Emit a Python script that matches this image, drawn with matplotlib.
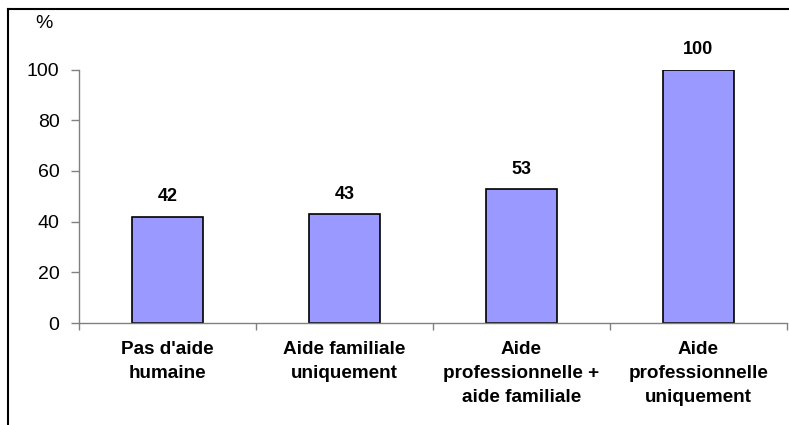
import matplotlib
matplotlib.use("Agg")
import matplotlib.pyplot as plt
from matplotlib.lines import Line2D

categories = ["Pas d'aide\nhumaine", "Aide familiale\nuniquement",
              "Aide\nprofessionnelle +\naide familiale", "Aide\nprofessionnelle\nuniquement"]
values = [42, 43, 53, 100]
yticks = [0, 20, 40, 60, 80, 100]

plt.rcParams['font.family'] = ['Liberation Sans', 'DejaVu Sans']

fig = plt.figure(figsize=(7.89, 4.25), dpi=100)
ax = fig.add_axes([79/789, 102/425, (787-79)/789, (323-69.5)/425])

x = list(range(len(values)))
bars = ax.bar(x, values, width=0.4, color="#9999FF", edgecolor="black", linewidth=1.2)
ax.set_xlim(-0.5, len(values) - 0.5)
ax.set_ylim(0, 100)
ax.set_yticks(yticks)
ax.set_yticklabels([str(t) for t in yticks], fontsize=14)

ax.set_xticks([i + 0.5 for i in range(-1, len(values))])
ax.set_xticklabels([])
ax.tick_params(axis='x', direction='out', length=5, color='#808080', width=1)
ax.tick_params(axis='y', direction='out', length=6, color='#808080', width=1, pad=8)

for i, lab in enumerate(categories):
    ax.text(i, -0.072, lab, transform=ax.get_xaxis_transform(), ha='center', va='top',
            fontsize=13.6, fontweight='bold', linespacing=1.52)

for i, v in enumerate(values):
    ax.annotate(str(v), (i, v), xytext=(0, 8), textcoords='offset points',
                ha='center', va='bottom', fontsize=13, fontweight='bold')

for s in ['top', 'right']:
    ax.spines[s].set_visible(False)
for s in ['left', 'bottom']:
    ax.spines[s].set_color('#808080')
    ax.spines[s].set_linewidth(1)

fig.text(44/789, 1 - 24/425, "%", ha='center', va='center', fontsize=14)

# frame border (left and top)
fig.add_artist(Line2D([8/789, 8/789], [0, 1 - 9/425], transform=fig.transFigure,
                      color='black', linewidth=1.5))
fig.add_artist(Line2D([8/789, 1], [1 - 9/425, 1 - 9/425], transform=fig.transFigure,
                      color='black', linewidth=1.5))

fig.savefig("out.png", dpi=100)
